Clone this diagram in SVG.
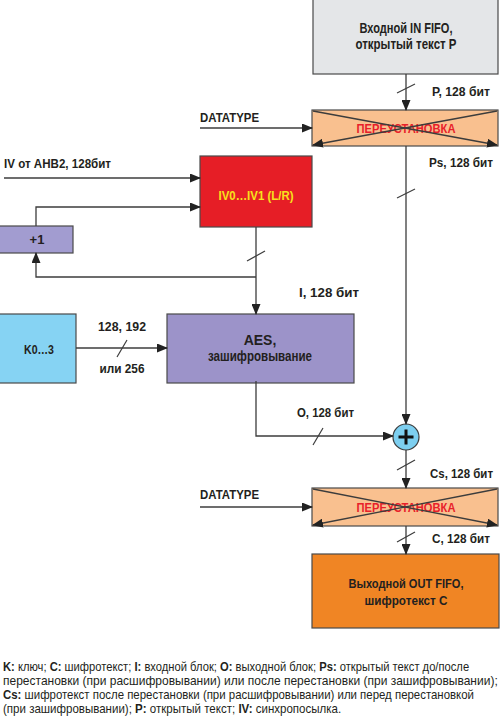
<svg xmlns="http://www.w3.org/2000/svg" width="500" height="723" viewBox="0 0 500 723">
<style>
.bx{stroke:#4a4a4a;stroke-width:1.2}
.t{font-family:"Liberation Sans",Arial,sans-serif;font-weight:bold;font-size:13px;fill:#231f20}
.big{font-size:14px}
.c{text-anchor:middle}
.ln{fill:none;stroke:#3c3c3c;stroke-width:1.3}
.sl{stroke:#3c3c3c;stroke-width:1.2}
.lg{font-family:"Liberation Sans",Arial,sans-serif;font-size:12.5px;fill:#231f20}
.b{font-weight:bold}
</style>
<defs>
<marker id="a" markerWidth="11" markerHeight="9" refX="10" refY="4.5" orient="auto" markerUnits="userSpaceOnUse"><path d="M0,0 L11,4.5 L0,9 z" fill="#222"/></marker>
</defs>
<rect width="500" height="723" fill="#fff"/>

<g id="in-fifo">
<rect class="bx" x="313" y="-1" width="185" height="75" fill="#e4e6e8"/>
<text class="t big c" x="406" y="33" textLength="93" lengthAdjust="spacingAndGlyphs">Входной IN FIFO,</text>
<text class="t big c" x="406" y="49" textLength="101" lengthAdjust="spacingAndGlyphs">открытый текст P</text>
</g>

<g id="perm1">
<rect class="bx" x="312" y="110" width="186" height="36" fill="#f9c08f"/>
<text class="t c" x="406" y="133" style="fill:#e8202a" textLength="99" lengthAdjust="spacingAndGlyphs">ПЕРЕУСТАНОВКА</text>
<line class="ln" x1="313" y1="111" x2="497" y2="145" marker-end="url(#a)"/>
<line class="ln" x1="497" y1="111" x2="313" y2="145" marker-end="url(#a)"/>
</g>

<g id="iv">
<rect class="bx" x="200" y="156" width="112" height="71" fill="#e61e26"/>
<text class="t c" x="256" y="200" style="fill:#f7e21c" textLength="75" lengthAdjust="spacingAndGlyphs">IV0…IV1 (L/R)</text>
</g>

<g id="inc">
<rect class="bx" x="-1" y="226" width="74" height="27" fill="#a29cd0"/>
<text class="t c" x="37" y="244">+1</text>
</g>

<g id="key">
<rect class="bx" x="-1" y="314" width="77" height="69" fill="#86d3f3"/>
<text class="t c" x="39" y="354" textLength="30" lengthAdjust="spacingAndGlyphs">K0…3</text>
</g>

<g id="aes">
<rect class="bx" x="167" y="314" width="187" height="69" fill="#9c93c9"/>
<text class="t big c" x="260" y="345">AES,</text>
<text class="t big c" x="260" y="361" textLength="104" lengthAdjust="spacingAndGlyphs">зашифровывание</text>
</g>

<g id="xor">
<circle cx="406" cy="437" r="13" fill="#7dcff0" stroke="#3c3c3c" stroke-width="1.2"/>
<path d="M398.5,437 H413.5 M406,429.5 V444.5" stroke="#111" stroke-width="3"/>
</g>

<g id="perm2">
<rect class="bx" x="312" y="488" width="186" height="38" fill="#f9c08f"/>
<text class="t c" x="406" y="512" style="fill:#e8202a" textLength="99" lengthAdjust="spacingAndGlyphs">ПЕРЕУСТАНОВКА</text>
<line class="ln" x1="313" y1="489" x2="497" y2="525" marker-end="url(#a)"/>
<line class="ln" x1="497" y1="489" x2="313" y2="525" marker-end="url(#a)"/>
</g>

<g id="out-fifo">
<rect class="bx" x="312" y="554" width="187" height="74" fill="#f08524"/>
<text class="t c" x="406" y="588" textLength="115" lengthAdjust="spacingAndGlyphs">Выходной OUT FIFO,</text>
<text class="t c" x="406" y="605" textLength="83" lengthAdjust="spacingAndGlyphs">шифротекст C</text>
</g>

<g id="connectors">
<line class="ln" x1="406" y1="74" x2="406" y2="110" marker-end="url(#a)"/>
<line class="sl" x1="397" y1="93" x2="415" y2="84"/>
<line class="ln" x1="200" y1="128" x2="312" y2="128" marker-end="url(#a)"/>
<line class="ln" x1="406" y1="146" x2="406" y2="424" marker-end="url(#a)"/>
<line class="sl" x1="397" y1="198" x2="415" y2="189"/>
<line class="ln" x1="4" y1="178" x2="200" y2="178" marker-end="url(#a)"/>
<path class="ln" d="M36,226 V207 H200" marker-end="url(#a)"/>
<line class="ln" x1="256" y1="227" x2="256" y2="314" marker-end="url(#a)"/>
<line class="sl" x1="247" y1="261" x2="265" y2="251"/>
<path class="ln" d="M256,277 H36 V253" marker-end="url(#a)"/>
<line class="ln" x1="76" y1="348" x2="167" y2="348" marker-end="url(#a)"/>
<line class="sl" x1="117" y1="357" x2="127" y2="340"/>
<path class="ln" d="M256,381 V436 H393" marker-end="url(#a)"/>
<line class="sl" x1="313" y1="445" x2="323" y2="428"/>
<line class="ln" x1="406" y1="450" x2="406" y2="488" marker-end="url(#a)"/>
<line class="sl" x1="397" y1="470" x2="415" y2="460"/>
<line class="ln" x1="200" y1="507" x2="312" y2="507" marker-end="url(#a)"/>
<line class="ln" x1="406" y1="526" x2="406" y2="554" marker-end="url(#a)"/>
<line class="sl" x1="397" y1="542" x2="415" y2="532"/>
</g>

<g id="labels">
<text class="t" x="432" y="96" textLength="58" lengthAdjust="spacingAndGlyphs">P, 128 бит</text>
<text class="t" x="200" y="122" textLength="59" lengthAdjust="spacingAndGlyphs">DATATYPE</text>
<text class="t" x="429" y="167" textLength="64" lengthAdjust="spacingAndGlyphs">Ps, 128 бит</text>
<text class="t" x="4" y="168" textLength="107" lengthAdjust="spacingAndGlyphs">IV от AHB2, 128бит</text>
<text class="t" x="299" y="297" textLength="60" lengthAdjust="spacingAndGlyphs">I, 128 бит</text>
<text class="t c" x="122" y="331" textLength="48" lengthAdjust="spacingAndGlyphs">128, 192</text>
<text class="t c" x="122" y="373" textLength="45" lengthAdjust="spacingAndGlyphs">или 256</text>
<text class="t" x="297" y="417" textLength="57" lengthAdjust="spacingAndGlyphs">O, 128 бит</text>
<text class="t" x="430" y="478" textLength="63" lengthAdjust="spacingAndGlyphs">Cs, 128 бит</text>
<text class="t" x="200" y="499" textLength="59" lengthAdjust="spacingAndGlyphs">DATATYPE</text>
<text class="t" x="432" y="543" textLength="58" lengthAdjust="spacingAndGlyphs">C, 128 бит</text>
</g>

<g id="legend">
<text class="lg" transform="translate(3,0) scale(0.896,1)" x="0" y="671"><tspan class="b">K:</tspan> ключ; <tspan class="b">C:</tspan> шифротекст; <tspan class="b">I:</tspan> входной блок; <tspan class="b">O:</tspan> выходной блок; <tspan class="b">Ps:</tspan> открытый текст до/после</text>
<text class="lg" transform="translate(3,0) scale(0.961,1)" x="0" y="685">перестановки (при расшифровывании) или после перестановки (при зашифровывании);</text>
<text class="lg" transform="translate(3,0) scale(0.915,1)" x="0" y="699"><tspan class="b">Cs:</tspan> шифротекст после перестановки (при расшифровывании) или перед перестановкой</text>
<text class="lg" transform="translate(3,0) scale(0.923,1)" x="0" y="713">(при зашифровывании); <tspan class="b">P:</tspan> открытый текст; <tspan class="b">IV:</tspan> синхропосылка.</text>
</g>
</svg>
